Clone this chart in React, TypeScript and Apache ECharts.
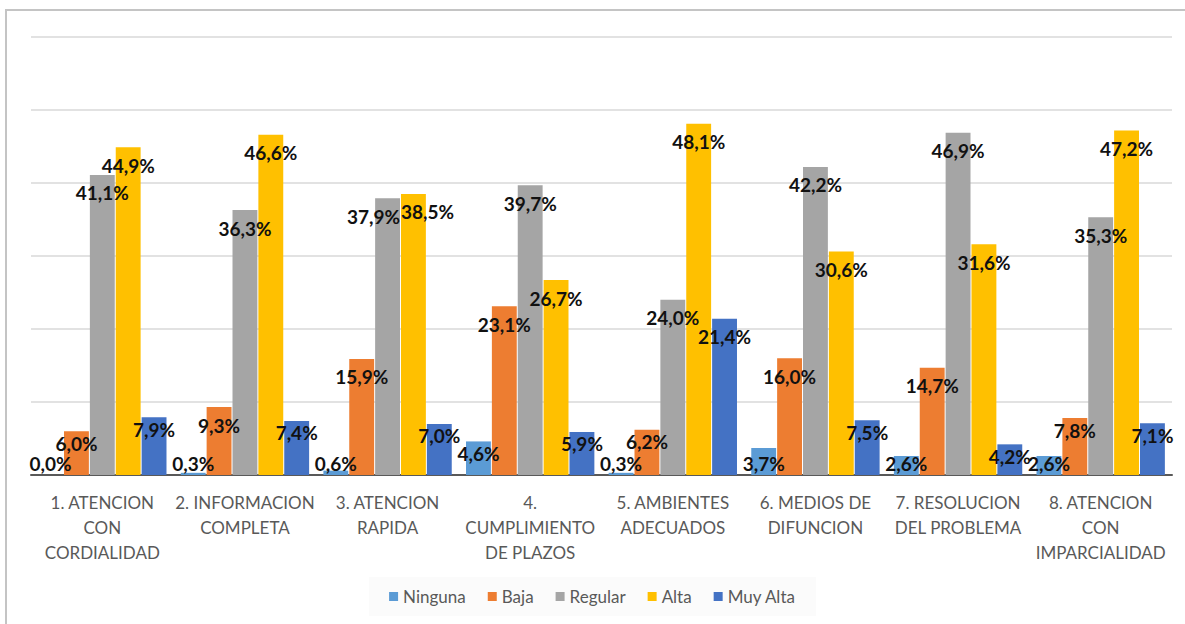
import React, { useEffect, useRef } from "react";
import * as echarts from "echarts";

const categories = [
  "1. ATENCION\nCON\nCORDIALIDAD",
  "2. INFORMACION\nCOMPLETA",
  "3. ATENCION\nRAPIDA",
  "4.\nCUMPLIMIENTO\nDE PLAZOS",
  "5. AMBIENTES\nADECUADOS",
  "6. MEDIOS DE\nDIFUNCION",
  "7. RESOLUCION\nDEL PROBLEMA",
  "8. ATENCION\nCON\nIMPARCIALIDAD",
];
const ninguna = [0.0, 0.3, 0.6, 4.6, 0.3, 3.7, 2.6, 2.6];
const baja = [6.0, 9.3, 15.9, 23.1, 6.2, 16.0, 14.7, 7.8];
const regular = [41.1, 36.3, 37.9, 39.7, 24.0, 42.2, 46.9, 35.3];
const alta = [44.9, 46.6, 38.5, 26.7, 48.1, 30.6, 31.6, 47.2];
const muyAlta = [7.9, 7.4, 7.0, 5.9, 21.4, 7.5, 4.2, 7.1];

const seriesNames = ["Ninguna", "Baja", "Regular", "Alta", "Muy Alta"];
const seriesValues = [ninguna, baja, regular, alta, muyAlta];
const colors = ["#5B9BD5", "#ED7D31", "#A5A5A5", "#FFC000", "#4472C4"];

const FONT = "Lato, 'Open Sans', sans-serif";

export default function App() {
  const ref = useRef<HTMLDivElement>(null);
  useEffect(() => {
    document.body.style.margin = "0";
    if (!ref.current) return;
    const chart = echarts.init(ref.current, null, { renderer: "svg" });
    const fmt = (v: number) => v.toFixed(1).replace(".", ",") + "%";
    // spread apart labels of Regular/Alta when their bars are nearly equal
    const nudge = (si: number, ci: number) => {
      if (Math.abs(regular[ci] - alta[ci]) < 2) {
        if (si === 2) return -14;
        if (si === 3) return 14;
      }
      return 0;
    };
    chart.setOption({
      animation: false,
      backgroundColor: "#ffffff",
      textStyle: { fontFamily: FONT },
      graphic: [
        {
          type: "rect",
          shape: { x: 6, y: 10, width: 1220, height: 700 },
          style: { fill: "none", stroke: "#c4c4c4", lineWidth: 2 },
          silent: true,
        },
      ],
      grid: { left: 31, right: 13, top: 37, bottom: 149 },
      legend: {
        bottom: 8,
        left: "center",
        itemWidth: 9,
        itemHeight: 9,
        itemGap: 22,
        padding: [11, 20, 11, 20],
        backgroundColor: "#fbfbfb",
        icon: "rect",
        textStyle: { fontFamily: FONT, fontSize: 17, color: "#595959" },
        data: seriesNames,
      },
      xAxis: {
        type: "category",
        data: categories,
        axisLine: { lineStyle: { color: "#595959", width: 2 } },
        axisTick: { show: false },
        axisLabel: {
          interval: 0,
          margin: 15,
          fontFamily: FONT,
          fontSize: 17,
          lineHeight: 25,
          color: "#595959",
          verticalAlign: "top",
        },
      },
      yAxis: {
        type: "value",
        min: 0,
        max: 60,
        interval: 10,
        axisLabel: { show: false },
        axisLine: { show: false },
        axisTick: { show: false },
        splitLine: { lineStyle: { color: "#d9d9d9", width: 1.5 } },
      },
      series: seriesNames.map((name, i) => ({
        name,
        type: "bar",
        barGap: "4%",
        barCategoryGap: "10%",
        itemStyle: { color: colors[i] },
        data: seriesValues[i].map((v, ci) => ({
          value: v,
          label: {
            show: true,
            position: v < 4 ? "insideBottom" : "insideTop",
            distance: v < 4 ? 3 : v < 8 ? 3 : 9,
            offset: [nudge(i, ci), 0],
            formatter: () => fmt(v),
            fontFamily: FONT,
            fontWeight: "bold",
            fontSize: 19,
            lineHeight: 18,
            color: "#111111",
          },
        })),
      })),
    });
    return () => chart.dispose();
  }, []);
  return <div ref={ref} style={{ width: 1185, height: 624 }} />;
}
